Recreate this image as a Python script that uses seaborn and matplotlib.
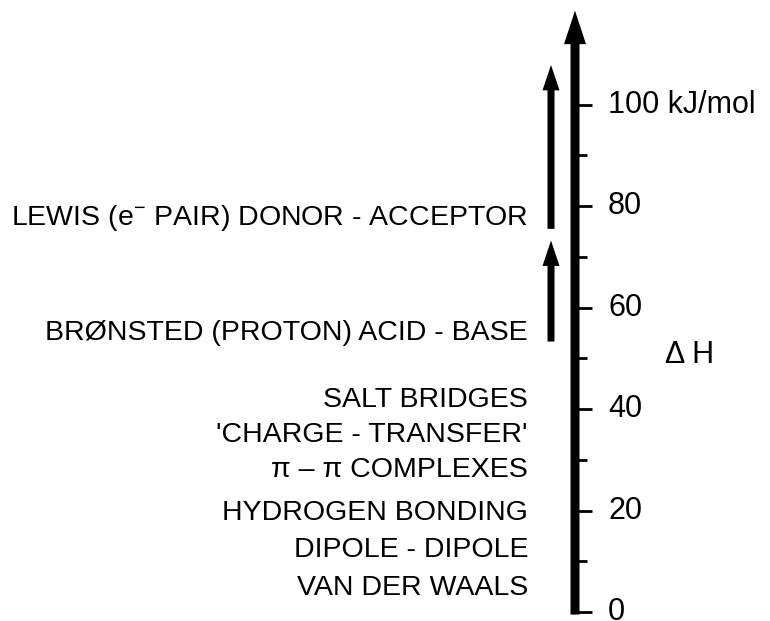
import matplotlib

matplotlib.use("Agg")
import matplotlib.pyplot as plt
import seaborn as sns

# ---- data ------------------------------------------------------------------
major_ticks = [0, 20, 40, 60, 80, 100]
major_labels = ["0", "20", "40", "60", "80", "100 kJ/mol"]
minor_ticks = [10, 30, 50, 70, 90]

interactions = [
    "LEWIS (e$^{-}$ PAIR) DONOR - ACCEPTOR",
    "BRØNSTED (PROTON) ACID - BASE",
    "SALT BRIDGES",
    "'CHARGE - TRANSFER'",
    "\u03c0 \u2013 \u03c0 COMPLEXES",
    "HYDROGEN BONDING",
    "DIPOLE - DIPOLE",
    "VAN DER WAALS",
]
interaction_dh = [77.7, 55.0, 41.8, 34.9, 28.0, 19.5, 12.2, 4.7]

# energy ranges drawn as arrows (start, end) in kJ/mol
scale_range = (-0.5, 118.5)
lewis_range = (75.5, 107.8)
bronsted_range = (53.3, 73.2)

# ---- plot ------------------------------------------------------------------
sns.set_theme(style="white")
plt.rcParams["font.family"] = ["Liberation Sans", "DejaVu Sans"]
plt.rcParams["text.color"] = "black"
plt.rcParams["mathtext.fontset"] = "custom"
plt.rcParams["mathtext.rm"] = "Liberation Sans"
plt.rcParams["mathtext.it"] = "Liberation Sans"

fig = plt.figure(figsize=(7.7, 6.21), dpi=100)
ax = fig.add_axes([0, 0, 1, 1])
ax.set_xlim(0, 770)
ax.set_ylim(-1.77, 120.6)
ax.axis("off")

# main enthalpy scale arrow
x_axis = 575
ax.arrow(x_axis, scale_range[0], 0, scale_range[1] - scale_range[0],
         width=9, head_width=22, head_length=6.6,
         length_includes_head=True, color="black", lw=0)

ax.hlines(major_ticks, x_axis, x_axis + 17, color="black", lw=2)
ax.hlines(minor_ticks, x_axis, x_axis + 12, color="black", lw=2)
for v, lab in zip(major_ticks, major_labels):
    ax.text(x_axis + 33, v, lab, fontsize=22, ha="left", va="center")

# range arrows for the strong interactions
for lo, hi in (lewis_range, bronsted_range):
    ax.arrow(551, lo, 0, hi - lo, width=7, head_width=17, head_length=5.0,
             length_includes_head=True, color="black", lw=0)

for label, dh in zip(interactions, interaction_dh):
    ax.text(528, dh, label, fontsize=20.5, ha="right", va="center")

ax.text(665, 50.7, "\u0394 H", fontsize=22, ha="left", va="center")

fig.savefig("out.png", dpi=100)
